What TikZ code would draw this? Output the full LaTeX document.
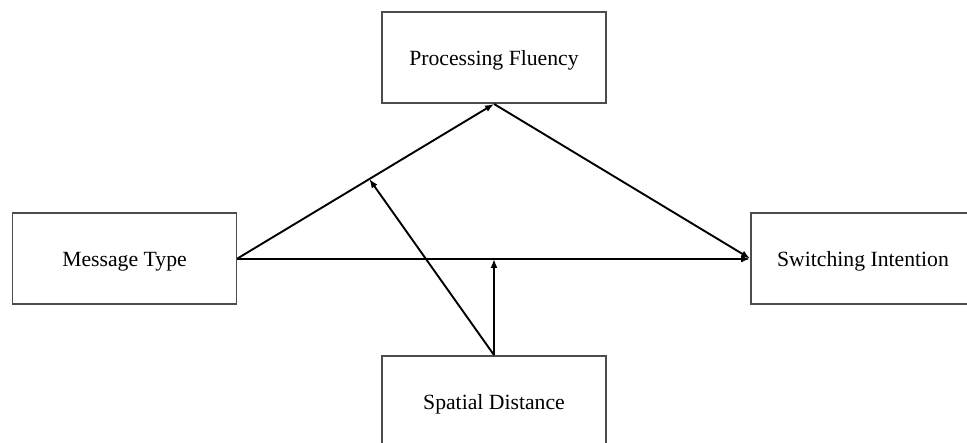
\documentclass[tikz,border=0pt]{standalone}
\usepackage{fontspec}
\setmainfont{Liberation Serif}
\usetikzlibrary{arrows.meta,calc}

\tikzset{
  varbox/.style={draw=black!70, line width=1.9pt, fill=white,
    minimum width=224pt, minimum height=91pt, inner sep=0pt,
    text height=20pt, text depth=3pt,
    font=\fontsize{21.7}{26}\selectfont},
  path arrow/.style={draw=black, line width=1.9pt,
    -{Latex[length=9pt,width=7pt]}}
}

\begin{document}
\begin{tikzpicture}[x=1pt,y=-1pt]
  \useasboundingbox (0,0) rectangle (967,443);
  \clip (0,0) rectangle (967,443);
  \fill[white] (0,0) rectangle (967,443);

  % model variables
  \node[varbox] (pf) at (494,57.5)  {Processing Fluency};
  \node[varbox] (mt) at (124.5,258.5) {Message Type};
  \node[varbox] (si) at (863,258.5) {Switching Intention};
  \node[varbox] (sd) at (494,401.5) {Spatial Distance};

  % ends of the direct path, set on whole pixel rows
  \coordinate (mtOut) at ($(mt.east)+(0,0.5)$);
  \coordinate (siIn) at ($(si.west)+(0,0.5)$);

  % points where the moderator acts on the paths
  \coordinate (modA) at ($(mt.east)!0.514!(pf.south)$);
  \coordinate (modB) at (sd.north |- mtOut);

  % mediation and direct paths
  \draw[path arrow] (mt.east) -- (pf.south);
  \draw[path arrow] (pf.south) -- (si.west);
  \draw[path arrow] (mtOut) -- (siIn);

  % moderation paths
  \draw[path arrow] (sd.north) -- (modA);
  \draw[path arrow] (sd.north) -- (modB);
\end{tikzpicture}
\end{document}
